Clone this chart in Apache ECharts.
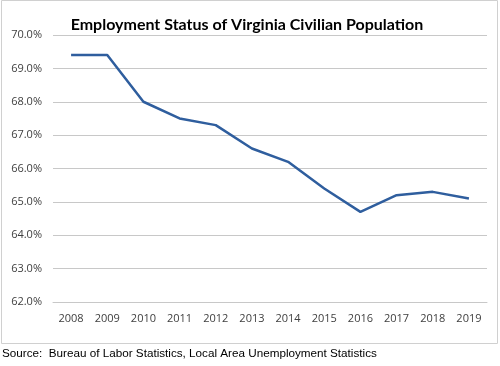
<!DOCTYPE html>
<html><head><meta charset="utf-8">
<script src="https://cdn.jsdelivr.net/npm/echarts@6/dist/echarts.min.js"></script>
<style>html,body{margin:0;padding:0;background:#fff}#c{width:500px;height:366px}</style>
</head><body><div id="c"></div>
<script>
const years = ['2008','2009','2010','2011','2012','2013','2014','2015','2016','2017','2018','2019'];
const employmentRate = [69.4, 69.4, 68.0, 67.5, 67.3, 66.6, 66.2, 65.4, 64.7, 65.2, 65.3, 65.1];
const titleText = 'Employment Status of Virginia Civilian Population';
const sourceText = 'Source:  Bureau of Labor Statistics, Local Area Unemployment Statistics';

const chart = echarts.init(document.getElementById('c'), null, {renderer:'canvas'});
chart.setOption({
  animation:false,
  title:{text:titleText,left:248,textAlign:'center',top:12,
    textStyle:{fontFamily:'Lato',fontWeight:'bold',fontSize:16,color:'#000'}},
  grid:{left:53,right:13,top:35,bottom:64},
  xAxis:{type:'category',data:years,boundaryGap:true,
    axisTick:{show:false},
    axisLine:{lineStyle:{color:'#c8c8c8',width:1}},
    axisLabel:{color:'#404040',fontFamily:'Open Sans',fontSize:11,margin:11}},
  yAxis:{type:'value',min:62,max:70,interval:1,
    axisLine:{show:false},axisTick:{show:false},
    splitLine:{lineStyle:{color:'#c8c8c8',width:1}},
    axisLabel:{color:'#404040',fontFamily:'Open Sans',fontSize:11,margin:11,
      formatter:v=>v.toFixed(1)+'%'}},
  series:[{type:'line',data:employmentRate,symbol:'none',
    lineStyle:{color:'#2f5e9e',width:2.5}}],
  graphic:[
    {type:'rect',shape:{x:1.5,y:0.5,width:496,height:343},
     style:{fill:null,stroke:'#d0d0d0',lineWidth:1},silent:true},
    {type:'text',left:2,top:348,style:{text:sourceText,fontFamily:'Liberation Sans',fontSize:11.7,fill:'#000'}}
  ]
});
chart.setOption({title:{left:242}});
</script></body></html>
